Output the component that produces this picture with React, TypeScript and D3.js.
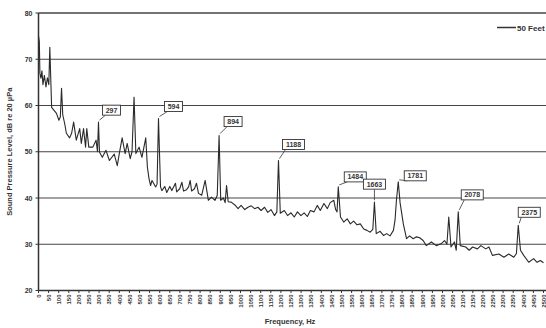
import { useEffect, useRef } from "react";
import * as d3 from "d3";

// spectrum (Hz, dB re 20 µPa)
const freqHz = [
  0, 4, 7, 12, 17, 22, 29, 37, 44, 51, 56, 65, 76, 89, 101, 108, 114, 120, 130, 138,
  154, 164, 174, 187, 204, 212, 223, 233, 239, 249, 269, 285, 292, 297, 302, 316, 334, 351, 375, 390,
  400, 414, 429, 439, 454, 463, 473, 482, 498, 512, 531, 539, 547, 555, 562, 580, 587, 594, 604, 611,
  625, 635, 650, 660, 678, 684, 699, 710, 718, 733, 743, 751, 758, 772, 782, 792, 808, 825, 841, 856,
  874, 885, 894, 902, 915, 924, 931, 939, 954, 972, 988, 1003, 1021, 1037, 1053, 1070, 1086, 1102, 1119, 1135,
  1151, 1168, 1180, 1188, 1197, 1217, 1233, 1250, 1266, 1282, 1299, 1315, 1331, 1346, 1364, 1380, 1395, 1413, 1430, 1444,
  1462, 1471, 1478, 1484, 1495, 1511, 1528, 1544, 1560, 1577, 1593, 1610, 1626, 1642, 1655, 1663, 1672, 1691, 1708, 1724,
  1740, 1757, 1765, 1772, 1781, 1790, 1806, 1822, 1837, 1855, 1871, 1887, 1904, 1920, 1945, 1969, 1993, 2010, 2022, 2031,
  2042, 2059, 2068, 2078, 2088, 2115, 2132, 2149, 2173, 2190, 2214, 2230, 2247, 2279, 2304, 2328, 2353, 2366, 2375, 2386,
  2402, 2427, 2451, 2468, 2484, 2500,
];
const splDb = [
  75, 73.8, 67, 65.9, 67.5, 64.5, 66.5, 64, 66, 64.5, 72.6, 59.6, 59, 58.3, 56.8, 57.5, 63.7, 58, 56, 54,
  53, 54, 56.4, 52.5, 55, 51.8, 55, 51, 55, 51, 51, 52.5, 50, 56.4, 49.9, 48.8, 50.3, 48.1, 49.5, 47,
  49.6, 53, 49.6, 51.8, 48.5, 50, 61.8, 49.6, 51, 48.8, 53, 46.7, 44.2, 42.7, 43.8, 42.4, 43, 57.2, 42.4, 41.6,
  42.5, 41.2, 42.5, 41.6, 43.2, 41.3, 42, 43.4, 41.5, 41.8, 42.4, 43.8, 41.5, 42, 43.2, 41, 40.6, 43.8, 39.5, 40.2,
  39.5, 40.6, 53.5, 39.5, 40, 39, 42.7, 39.2, 39.1, 38.5, 37.7, 38.4, 37.5, 38, 38.3, 37.7, 38, 37.3, 38, 36.9,
  37.5, 36.2, 37, 48.1, 36.7, 37.3, 36.2, 36.8, 35.9, 37, 36.2, 36.8, 36, 37.3, 37, 38.4, 37.3, 38.8, 37.7, 39,
  39.5, 37.5, 37, 42.4, 35.9, 34.8, 35.5, 34.4, 35, 34.2, 34.4, 33.3, 33, 32.6, 33.2, 39.1, 32.3, 32.8, 31.9, 32.3,
  31.8, 33, 35.2, 39.5, 43.5, 39, 34.4, 31.2, 31.8, 31.2, 31.6, 31.4, 30.8, 29.7, 30.5, 29.7, 30.1, 30.8, 30, 35.9,
  29.4, 30.5, 28.7, 37, 29.7, 29.4, 28.7, 29.4, 29, 29.7, 29, 29.4, 27.6, 27.9, 27.2, 27.9, 27.2, 28, 34.1, 28.7,
  27.6, 26.1, 26.9, 26.1, 26.5, 26,
];

const peakLabels = [297, 594, 894, 1188, 1484, 1663, 1781, 2078, 2375];
// callout box offset from its peak: [dx, dy]
const calloutOffsets = [
  [4, 7], [6, 7], [5, 9], [4, 11], [6, 5], [-2, 13], [6, 1], [3, 12], [0, 8],
];

const yTicks = [20, 30, 40, 50, 60, 70, 80];
const xTicks = d3.range(0, 2501, 50);

const W = 546;
const H = 328;
const ink = "#333";
const font = "'Liberation Sans', Arial, sans-serif";

const Chart = () => {
  const svgRef = useRef<SVGSVGElement>(null);

  useEffect(() => {
    const svg = d3.select(svgRef.current);
    svg.selectAll("*").remove();

    const x = d3.scaleLinear().domain([0, 2500]).range([38.5, 543.5]);
    const y = d3.scaleLinear().domain([20, 80]).range([290.5, 13]);

    const g = svg.append("g");

    // grid lines
    g.selectAll(".grid")
      .data(yTicks.filter((t) => t > 20))
      .join("line")
      .attr("x1", x(0))
      .attr("x2", W)
      .attr("y1", (d) => y(d))
      .attr("y2", (d) => y(d))
      .attr("stroke", "#444")
      .attr("stroke-width", (d) => (d === 80 ? 1.5 : 1.2));

    // y axis
    g.append("line")
      .attr("x1", x(0))
      .attr("x2", x(0))
      .attr("y1", y(80))
      .attr("y2", y(20))
      .attr("stroke", ink)
      .attr("stroke-width", 1.5);

    g.selectAll(".ytick")
      .data(yTicks)
      .join("line")
      .attr("x1", x(0) - 3)
      .attr("x2", x(0))
      .attr("y1", (d) => y(d))
      .attr("y2", (d) => y(d))
      .attr("stroke", ink);

    g.selectAll(".ylab")
      .data(yTicks)
      .join("text")
      .attr("x", x(0) - 6)
      .attr("y", (d) => y(d) + 2.5)
      .attr("text-anchor", "end")
      .attr("font-family", font)
      .attr("font-size", 7)
      .attr("font-weight", "bold")
      .attr("fill", ink)
      .text((d) => d);

    // x axis
    g.append("line")
      .attr("x1", x(0))
      .attr("x2", W)
      .attr("y1", y(20))
      .attr("y2", y(20))
      .attr("stroke", ink)
      .attr("stroke-width", 1.5);

    g.selectAll(".xtick")
      .data(xTicks)
      .join("line")
      .attr("x1", (d) => x(d))
      .attr("x2", (d) => x(d))
      .attr("y1", y(20))
      .attr("y2", y(20) + 2.5)
      .attr("stroke", ink);

    g.selectAll(".xlab")
      .data(xTicks)
      .join("text")
      .attr("transform", (d) => `translate(${x(d) + 2.2},${y(20) + 4}) rotate(-90)`)
      .attr("text-anchor", "end")
      .attr("font-family", font)
      .attr("font-size", 6)
      .attr("font-weight", "bold")
      .attr("fill", ink)
      .text((d) => d);

    // spectrum line
    const pts = freqHz.map((f, i) => [f, splDb[i]] as [number, number]);
    const line = d3
      .line<[number, number]>()
      .x((d) => x(d[0]))
      .y((d) => y(d[1]));

    g.append("path")
      .datum(pts)
      .attr("fill", "none")
      .attr("stroke", "#2a2a2a")
      .attr("stroke-width", 1.1)
      .attr("stroke-linejoin", "round")
      .attr("d", line);

    // peak callouts
    peakLabels.forEach((f, i) => {
      const v = splDb[freqHz.indexOf(f)];
      const px = x(f);
      const py = y(v);
      const [dx, dy] = calloutOffsets[i];
      const label = String(f);
      const bw = label.length === 3 ? 18 : 22;
      const bh = 10;
      const bx = dx < 0 ? px - bw / 2 : px + dx;
      const by = py - dy - bh;

      g.append("line")
        .attr("x1", dx < 0 ? px : px + 1)
        .attr("y1", py - 2)
        .attr("x2", dx < 0 ? px : bx + 3)
        .attr("y2", by + bh)
        .attr("stroke", ink)
        .attr("stroke-width", 0.8);

      g.append("rect")
        .attr("x", bx)
        .attr("y", by)
        .attr("width", bw)
        .attr("height", bh)
        .attr("fill", "#fff")
        .attr("stroke", ink)
        .attr("stroke-width", 0.9);

      g.append("text")
        .attr("x", bx + bw / 2)
        .attr("y", by + 7.5)
        .attr("text-anchor", "middle")
        .attr("font-family", font)
        .attr("font-size", 7)
        .attr("font-weight", "bold")
        .attr("fill", ink)
        .text(label);
    });

    // legend
    g.append("line")
      .attr("x1", 497)
      .attr("x2", 516)
      .attr("y1", 27.5)
      .attr("y2", 27.5)
      .attr("stroke", ink)
      .attr("stroke-width", 1.5);

    g.append("text")
      .attr("x", 517)
      .attr("y", 30.5)
      .attr("font-family", font)
      .attr("font-size", 8)
      .attr("font-weight", "bold")
      .attr("fill", ink)
      .text("50 Feet");

    // axis titles
    g.append("text")
      .attr("x", 290)
      .attr("y", 324)
      .attr("text-anchor", "middle")
      .attr("font-family", font)
      .attr("font-size", 7.5)
      .attr("font-weight", "bold")
      .attr("fill", ink)
      .text("Frequency, Hz");

    g.append("text")
      .attr("transform", `translate(12,${(y(80) + y(20)) / 2}) rotate(-90)`)
      .attr("text-anchor", "middle")
      .attr("font-family", font)
      .attr("font-size", 7.5)
      .attr("font-weight", "bold")
      .attr("fill", ink)
      .text("Sound Pressure Level, dB re 20 µPa");
  }, []);

  return (
    <svg
      ref={svgRef}
      width={W}
      height={H}
      style={{ position: "absolute", left: 0, top: 0, background: "#fff" }}
    />
  );
};

export default function App() {
  return <Chart />;
}
